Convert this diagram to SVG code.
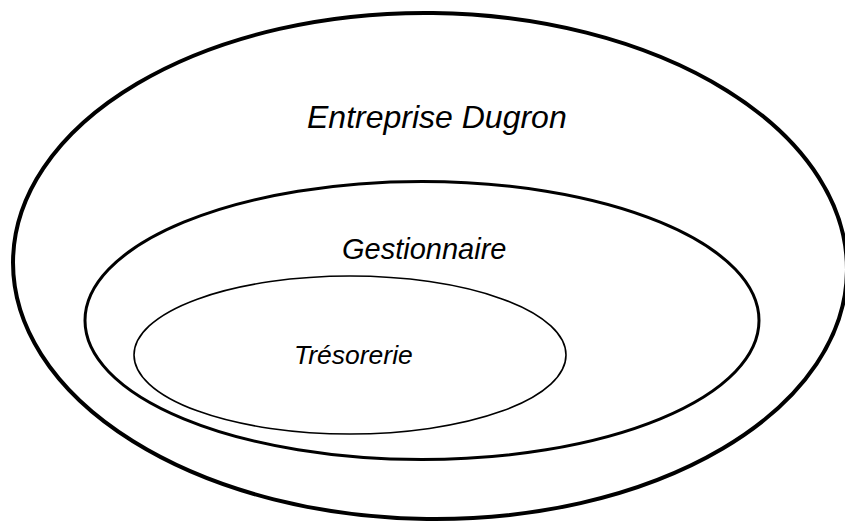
<svg xmlns="http://www.w3.org/2000/svg" width="845" height="522" viewBox="0 0 845 522">
<style>
.ell{fill:none;stroke:#000}
.lbl{font-family:"Liberation Sans",Arial,sans-serif;font-style:italic;fill:#000}
</style>
<rect width="845" height="522" fill="#fff"/>
<g id="entreprise">
<ellipse class="ell" cx="430" cy="266" rx="417" ry="253" stroke-width="4" transform="rotate(0.7 430 266)"/>
<text class="lbl" x="307" y="128" font-size="32">Entreprise Dugron</text>
</g>
<g id="gestionnaire">
<ellipse class="ell" cx="422" cy="320.5" rx="337" ry="139" stroke-width="3"/>
<text class="lbl" x="342" y="259" font-size="29">Gestionnaire</text>
</g>
<g id="tresorerie">
<ellipse class="ell" cx="350" cy="355" rx="216" ry="79" stroke-width="1.6"/>
<text class="lbl" x="294" y="364" font-size="26.5">Trésorerie</text>
</g>
<g id="connectors"/>
</svg>
